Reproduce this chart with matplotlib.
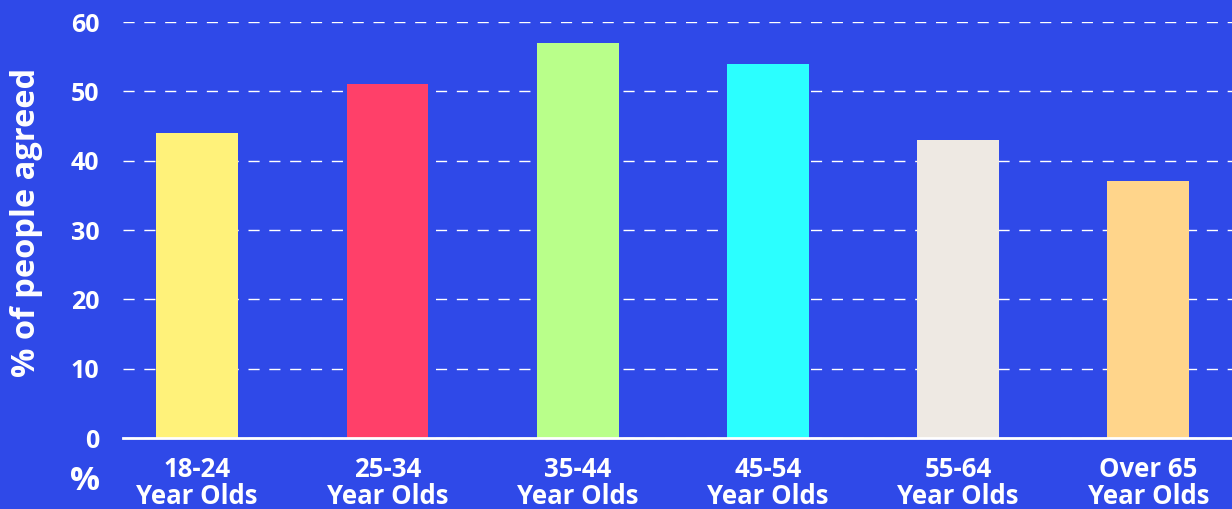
import matplotlib.pyplot as plt

categories = ['18-24\nYear Olds', '25-34\nYear Olds', '35-44\nYear Olds',
              '45-54\nYear Olds', '55-64\nYear Olds', 'Over 65\nYear Olds']
values = [44, 51, 57, 54, 43, 37]
bar_colors = ['#FFF27A', '#FF4069', '#B9FF8A', '#2BFFFF', '#EEE9E3', '#FFD58B']
yticks = [0, 10, 20, 30, 40, 50, 60]

bg = '#2F49E8'
plt.rcParams['font.family'] = ['Open Sans', 'DejaVu Sans']
plt.rcParams['font.weight'] = 'bold'

fig = plt.figure(figsize=(12.32, 5.09), dpi=100, facecolor=bg)
ax = fig.add_axes([123/1232, 71/509, 1 - 123/1232, (438-22)/509])
ax.set_facecolor(bg)

x = range(len(values))
ax.bar(x, values, width=0.43, color=bar_colors, zorder=3)

ax.set_ylim(0, 60)
ax.set_xlim(-0.39, 5.44)
ax.set_yticks(yticks)
ax.set_xticks(list(x))
ax.set_xticklabels(categories, linespacing=1.0)
ax.tick_params(axis='y', length=0, pad=17, labelsize=18, labelcolor='white')
ax.tick_params(axis='x', length=0, pad=13, labelsize=18.5, labelcolor='white')

ax.grid(axis='y', color='white', linewidth=1, linestyle=(0, (8, 7)), zorder=0)
for s in ['top', 'right', 'left']:
    ax.spines[s].set_visible(False)
ax.spines['bottom'].set_color('white')
ax.spines['bottom'].set_linewidth(2)
ax.spines['bottom'].set_zorder(4)

fig.text(27/1232, 1 - 222/509, '% of people agreed', rotation=90, color='white',
         fontsize=23.5, fontweight='bold', ha='center', va='center')
fig.text(85/1232, 1 - 482/509, '%', color='white', fontsize=24,
         fontweight='bold', ha='center', va='center')

fig.savefig('out.png', dpi=100, facecolor=bg)
